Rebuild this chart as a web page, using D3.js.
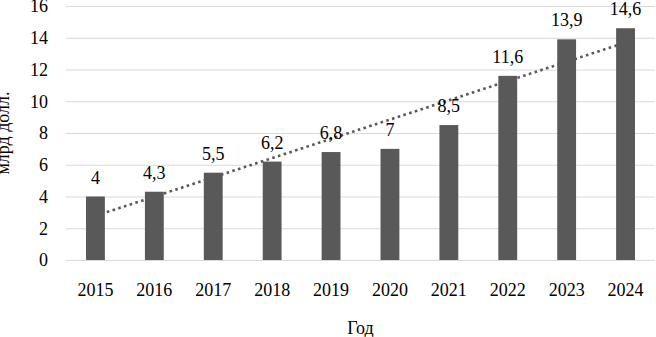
<!DOCTYPE html>
<html>
<head>
<meta charset="utf-8">
<script src="https://cdn.jsdelivr.net/npm/d3@7"></script>
</head>
<body style="margin:0">
<svg id="chart" width="656" height="337" font-family="Liberation Serif"></svg>
<script>
const years = ['2015', '2016', '2017', '2018', '2019', '2020', '2021', '2022', '2023', '2024']
const values = [4, 4.3, 5.5, 6.2, 6.8, 7, 8.5, 11.6, 13.9, 14.6]
const yTicks = [0, 2, 4, 6, 8, 10, 12, 14, 16]
const labels = ['4', '4,3', '5,5', '6,2', '6,8', '7', '8,5', '11,6', '13,9', '14,6']

const svg = d3.select('#chart')
const margins = {top: 6, right: 1, bottom: 77, left: 66}
const width = 656 - margins.left - margins.right
const height = 337 - margins.top - margins.bottom

const x = d3.scaleBand()
  .domain(years)
  .range([0, width])
  .paddingInner(0.68)
  .paddingOuter(0.34)
const y = d3.scaleLinear().domain([0, 16]).range([height, 0])

const g = svg.append('g')
  .attr('transform', `translate(${margins.left}, ${margins.top})`)

// gridlines
g.selectAll('.grid')
  .data(yTicks)
  .enter()
  .append('line')
  .attr('class', 'grid')
  .attr('x1', 0)
  .attr('x2', width)
  .attr('y1', (d) => y(d) + 0.5)
  .attr('y2', (d) => y(d) + 0.5)
  .attr('stroke', '#d9d9d9')
  .attr('stroke-width', 1)

// y axis labels
const yAxis = g.append('g')
  .attr('class', 'axis axis--y')
  .call(d3.axisLeft(y).tickValues(yTicks).tickSize(0).tickPadding(18))
yAxis.select('.domain').remove()
yAxis.attr('font-family', null).attr('font-size', null)
yAxis.selectAll('text')
  .attr('fill', '#000')
  .attr('font-family', 'Liberation Serif')
  .attr('font-size', 18)

// x axis labels
const xAxis = g.append('g')
  .attr('class', 'axis axis--x')
  .attr('transform', `translate(0, ${height})`)
  .call(d3.axisBottom(x).tickSize(0).tickPadding(23))
xAxis.select('.domain').remove()
xAxis.attr('font-family', null).attr('font-size', null)
xAxis.selectAll('text')
  .attr('fill', '#000')
  .attr('font-family', 'Liberation Serif')
  .attr('font-size', 18)

// linear trend line (least squares over the values)
const xs = values.map((d, i) => i + 1)
const mx = d3.mean(xs)
const my = d3.mean(values)
const slope = d3.sum(xs, (xi, i) => (xi - mx) * (values[i] - my)) / d3.sum(xs, (xi) => (xi - mx) ** 2)
const icpt = my - slope * mx
const trend = [0, years.length - 1].map((i) => ({year: years[i], v: icpt + slope * (i + 1)}))

g.append('path')
  .datum(trend)
  .attr('fill', 'none')
  .attr('stroke', '#595959')
  .attr('stroke-width', 2.6)
  .attr('stroke-dasharray', '2.6 3.4')
  .attr('d', d3.line()
    .x((d) => x(d.year) + x.bandwidth() / 2)
    .y((d) => y(d.v)))

// bars
const data = years.map((yr, i) => ({year: yr, value: values[i], label: labels[i]}))

g.selectAll('.bar')
  .data(data)
  .enter()
  .append('rect')
  .attr('class', 'bar')
  .attr('x', (d) => x(d.year))
  .attr('y', (d) => y(d.value))
  .attr('width', x.bandwidth())
  .attr('height', (d) => height - y(d.value))
  .attr('fill', '#595959')

// value labels
g.selectAll('.val')
  .data(data)
  .enter()
  .append('text')
  .attr('class', 'val')
  .attr('x', (d) => x(d.year) + x.bandwidth() / 2)
  .attr('y', (d) => y(d.value) - 13)
  .attr('text-anchor', 'middle')
  .attr('font-family', 'Liberation Serif')
  .attr('font-size', 18)
  .text((d) => d.label)

// axis titles
svg.append('text')
  .attr('x', margins.left + width / 2)
  .attr('y', 334)
  .attr('text-anchor', 'middle')
  .attr('font-family', 'Liberation Serif')
  .attr('font-size', 18)
  .text('Год')

svg.append('text')
  .attr('transform', `translate(9, ${margins.top + height / 2}) rotate(-90)`)
  .attr('text-anchor', 'middle')
  .attr('font-family', 'Liberation Serif')
  .attr('font-size', 18)
  .text('млрд долл.')
</script>
</body>
</html>
